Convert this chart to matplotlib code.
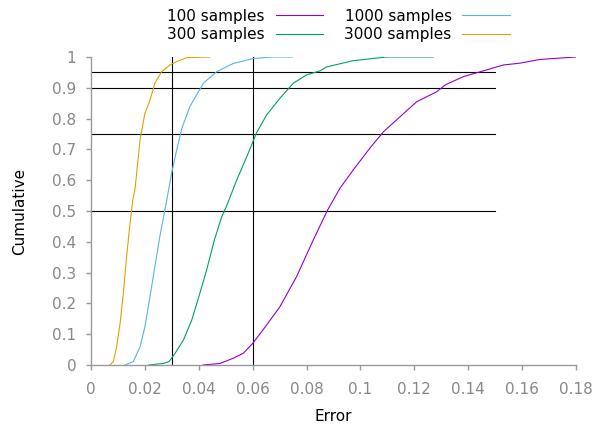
import matplotlib
matplotlib.use('Agg')
import matplotlib.pyplot as plt

err_100 = [0.0416, 0.0479, 0.0528, 0.0565, 0.0600, 0.0652, 0.0701, 0.0763, 0.0825, 0.0878,
           0.0924, 0.0973, 0.1035, 0.1085, 0.1147, 0.1209, 0.1283, 0.1314, 0.1381, 0.1468,
           0.1530, 0.1592, 0.1666, 0.1800]
cum_100 = [0.0, 0.005, 0.022, 0.038, 0.070, 0.130, 0.189, 0.287, 0.406, 0.503,
           0.574, 0.633, 0.704, 0.757, 0.806, 0.855, 0.887, 0.909, 0.936, 0.958,
           0.974, 0.980, 0.992, 1.0]

err_300 = [0.0215, 0.0268, 0.0290, 0.0312, 0.0343, 0.0374, 0.0404, 0.0429, 0.0458, 0.0485,
           0.0505, 0.0541, 0.0578, 0.0615, 0.0652, 0.0701, 0.0751, 0.0800, 0.0850, 0.0875,
           0.0973, 0.1097, 0.1270]
cum_300 = [0.0, 0.005, 0.011, 0.038, 0.081, 0.146, 0.233, 0.308, 0.406, 0.481,
           0.520, 0.601, 0.676, 0.755, 0.812, 0.866, 0.915, 0.942, 0.955, 0.968,
           0.988, 1.0, 1.0]

err_1000 = [0.0126, 0.0157, 0.0182, 0.0200, 0.0219, 0.0237, 0.0256, 0.0279, 0.0299, 0.0318,
            0.0337, 0.0367, 0.0417, 0.0466, 0.0528, 0.0602, 0.0676, 0.0747]
cum_1000 = [0.0, 0.011, 0.059, 0.124, 0.222, 0.319, 0.420, 0.525, 0.622, 0.698,
            0.768, 0.839, 0.915, 0.952, 0.979, 0.995, 1.0, 1.0]

err_3000 = [0.0070, 0.0083, 0.0095, 0.0108, 0.0120, 0.0132, 0.0145, 0.0155, 0.0163, 0.0182,
            0.0200, 0.0219, 0.0237, 0.0262, 0.0293, 0.0318, 0.0355, 0.0442]
cum_3000 = [0.0, 0.011, 0.059, 0.135, 0.233, 0.352, 0.460, 0.536, 0.568, 0.731,
            0.817, 0.860, 0.915, 0.952, 0.974, 0.985, 0.998, 1.0]

labels = ['100 samples', '300 samples', '1000 samples', '3000 samples']
colors = ['#9400d3', '#009e73', '#56b4e9', '#e69f00']

levels = [0.5, 0.75, 0.9, 0.95]
marks = [0.03, 0.06]

plt.rcParams['font.family'] = 'DejaVu Sans'
plt.rcParams['font.size'] = 11

fig = plt.figure(figsize=(5.97, 4.29), dpi=100)
ax = fig.add_axes([91/597, 1 - 365/429, 485/597, 308/429])

lw = 0.8
for lv in levels:
    ax.plot([0, 0.15], [lv, lv], color='black', lw=lw)
for m in marks:
    ax.plot([m, m], [0, 1], color='black', lw=lw)

series = [(err_100, cum_100), (err_300, cum_300), (err_1000, cum_1000), (err_3000, cum_3000)]
handles = []
for (xs, ys), lab, c in zip(series, labels, colors):
    h, = ax.plot(xs, ys, color=c, lw=lw, label=lab)
    handles.append(h)

ax.set_xlim(0, 0.18)
ax.set_ylim(0, 1)
ax.set_xticks([0, 0.02, 0.04, 0.06, 0.08, 0.1, 0.12, 0.14, 0.16, 0.18])
ax.set_xticklabels(['0', '0.02', '0.04', '0.06', '0.08', '0.1', '0.12', '0.14', '0.16', '0.18'])
ax.set_yticks([0, 0.1, 0.2, 0.3, 0.4, 0.5, 0.6, 0.7, 0.8, 0.9, 1])
ax.set_yticklabels(['0', '0.1', '0.2', '0.3', '0.4', '0.5', '0.6', '0.7', '0.8', '0.9', '1'])

grey = '#999999'
for s in ['top', 'right']:
    ax.spines[s].set_visible(False)
for s in ['left', 'bottom']:
    ax.spines[s].set_color(grey)
    ax.spines[s].set_linewidth(1)
ax.tick_params(colors=grey, labelcolor='#888888', direction='out', length=3.6, width=1,
               labelsize=11)
ax.tick_params(axis='x', pad=8.5)
ax.tick_params(axis='y', pad=7)
ax.set_xlabel('Error', fontsize=11, labelpad=9)
ax.set_ylabel('Cumulative', fontsize=11, labelpad=18)

fig.legend(handles=handles, loc='upper center', bbox_to_anchor=(0.567, 1.012), ncol=2,
           frameon=False, markerfirst=False, handlelength=3.1, columnspacing=1.4,
           handletextpad=0.7, labelspacing=0.25, fontsize=11)

fig.savefig('out.png', dpi=100)
